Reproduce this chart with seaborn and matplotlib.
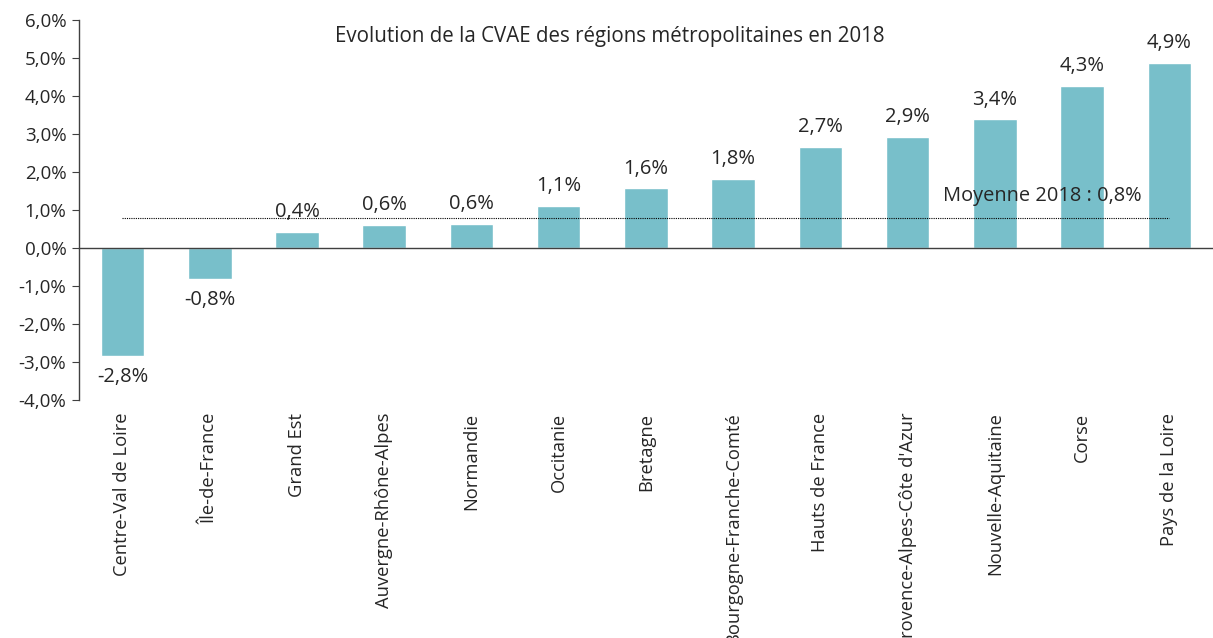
import matplotlib
matplotlib.use('Agg')
import matplotlib.pyplot as plt
import seaborn as sns
import pandas as pd

regions = ['Centre-Val de Loire', 'Île-de-France', 'Grand Est', 'Auvergne-Rhône-Alpes', 'Normandie',
           'Occitanie', 'Bretagne', 'Bourgogne-Franche-Comté', 'Hauts de France',
           "Provence-Alpes-Côte d'Azur", 'Nouvelle-Aquitaine', 'Corse', 'Pays de la Loire']
evolution = [-2.84, -0.81, 0.42, 0.60, 0.63, 1.10, 1.57, 1.82, 2.66, 2.92, 3.38, 4.26, 4.86]
moyenne = 0.8
y_ticks = [-4, -3, -2, -1, 0, 1, 2, 3, 4, 5, 6]

sns.set_style('white')
plt.rcParams['font.family'] = ['Open Sans', 'DejaVu Sans']

df = pd.DataFrame({'region': regions, 'evolution': evolution})

fig, ax = plt.subplots(figsize=(12.13, 6.38), dpi=100)
fig.subplots_adjust(left=0.065, right=1.0, top=0.969, bottom=0.373)

sns.barplot(data=df, x='region', y='evolution', color='#78bfca', width=0.5, saturation=1, ax=ax)

ax.set_xlim(-0.5, len(regions) - 0.5)
ax.set_ylim(-4, 6)
ax.set_yticks(y_ticks)
ax.set_yticklabels(['{:.1f}%'.format(v).replace('.', ',') for v in y_ticks], fontsize=13.5)
ax.set_xlabel('')
ax.set_ylabel('')

# spines: left axis + horizontal axis at zero
for s in ['top', 'right']:
	ax.spines[s].set_visible(False)
ax.spines['bottom'].set_position(('data', 0))
for s in ['left', 'bottom']:
	ax.spines[s].set_color('#404040')
	ax.spines[s].set_linewidth(1.0)

# ticks between categories on the zero line, labels at the bottom
ax.set_xticks([i - 0.5 for i in range(len(regions) + 1)])
ax.set_xticklabels([])
ax.tick_params(axis='x', direction='out', length=5, color='#404040')
ax.tick_params(axis='y', direction='out', length=5, color='#404040', left=True, pad=4)
for i, name in enumerate(regions):
	ax.annotate(name, xy=(i, -4), xytext=(0, -9), textcoords='offset points',
				rotation=90, ha='center', va='top', fontsize=13.2)

# value labels
for i, v in enumerate(evolution):
	lab = '{:.1f}%'.format(v).replace('.', ',')
	if v >= 0:
		ax.annotate(lab, xy=(i, v), xytext=(0, 7), textcoords='offset points', ha='center', va='bottom', fontsize=14.5)
	else:
		ax.annotate(lab, xy=(i, v), xytext=(0, -8), textcoords='offset points', ha='center', va='top', fontsize=14.5)

# average line
ax.plot([0, len(regions) - 1], [moyenne, moyenne], color='black', lw=0.8, ls=(0, (1, 1)))
ax.text(9.41, 1.37, 'Moyenne 2018 : 0,8%', fontsize=14.4, ha='left', va='center')

ax.text(0.468, 0.955, 'Evolution de la CVAE des régions métropolitaines en 2018', transform=ax.transAxes,
		ha='center', va='center', fontsize=14.8)

plt.savefig('out.png', dpi=100)
